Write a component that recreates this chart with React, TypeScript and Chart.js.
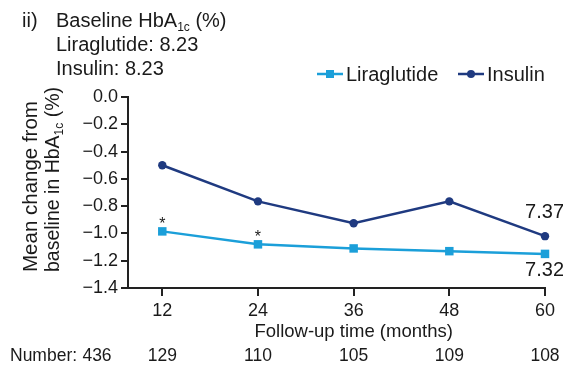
import React, { useEffect, useRef } from "react";
import { Chart, registerables } from "chart.js";

Chart.register(...registerables);

const months = [12, 24, 36, 48, 60];
const liraglutide = [-0.985, -1.08, -1.11, -1.13, -1.15];
const insulin = [-0.5, -0.765, -0.925, -0.765, -1.02];
const yTicks = [0, -0.2, -0.4, -0.6, -0.8, -1.0, -1.2, -1.4];
const numberLabels = ["436", "129", "110", "105", "109", "108"];
const significant = [true, true, false, false, false];
const liraEndLabel = "7.32";
const insulinEndLabel = "7.37";
const baselineLira = "8.23";
const baselineInsulin = "8.23";

const LIRA = "#1b9fd9";
const INS = "#1f3a80";
const TXT = "#1a1a1a";
const FAM = '"Liberation Sans", Arial, sans-serif';
const FS = 18;
const FH = 20;

type Seg = { t: string; size?: number; dy?: number };

function drawRich(ctx: CanvasRenderingContext2D, x: number, y: number, segs: Seg[], base: number) {
  let cx = x;
  for (const s of segs) {
    ctx.font = `${s.size || base}px ${FAM}`;
    ctx.fillText(s.t, cx, y + (s.dy || 0));
    cx += ctx.measureText(s.t).width;
  }
}

const overlay = {
  id: "overlay",
  afterDraw(chart: any) {
    const ctx: CanvasRenderingContext2D = chart.ctx;
    const xs = chart.scales.x;
    const ys = chart.scales.y;
    ctx.save();
    ctx.fillStyle = TXT;
    ctx.textAlign = "left";
    ctx.textBaseline = "alphabetic";

    // header
    ctx.font = `${FH}px ${FAM}`;
    ctx.fillText("ii)", 22, 27);
    drawRich(ctx, 56, 27, [
      { t: "Baseline HbA" },
      { t: "1c", size: 12, dy: 4 },
      { t: " (%)" },
    ], FH);
    ctx.font = `${FH}px ${FAM}`;
    ctx.fillText("Liraglutide: " + baselineLira, 56, 51);
    ctx.fillText("Insulin: " + baselineInsulin, 56, 75);

    // legend
    const legend = [
      { label: "Liraglutide", color: LIRA, style: "rect", x: 317 },
      { label: "Insulin", color: INS, style: "circle", x: 458 },
    ];
    for (const l of legend) {
      const ly = 74;
      ctx.strokeStyle = l.color;
      ctx.lineWidth = 2.5;
      ctx.beginPath();
      ctx.moveTo(l.x, ly);
      ctx.lineTo(l.x + 26, ly);
      ctx.stroke();
      ctx.fillStyle = l.color;
      if (l.style === "rect") {
        ctx.fillRect(l.x + 13 - 4, ly - 4, 8, 8);
      } else {
        ctx.beginPath();
        ctx.arc(l.x + 13, ly, 4, 0, Math.PI * 2);
        ctx.fill();
      }
      ctx.fillStyle = TXT;
      ctx.font = `${FH}px ${FAM}`;
      ctx.textBaseline = "middle";
      ctx.fillText(l.label, l.x + 29, ly + 1);
      ctx.textBaseline = "alphabetic";
    }

    // y title
    ctx.fillStyle = TXT;
    ctx.save();
    ctx.translate(37, 272);
    ctx.rotate(-Math.PI / 2);
    drawRich(ctx, 0, 0, [{ t: "Mean change from" }], 20.5);
    ctx.restore();
    ctx.save();
    ctx.translate(59, 272);
    ctx.rotate(-Math.PI / 2);
    drawRich(ctx, 0, 0, [
      { t: "baseline in HbA" },
      { t: "1c", size: 12, dy: 4 },
      { t: " (%)" },
    ], 19.5);
    ctx.restore();

    // x title
    ctx.font = `18.5px ${FAM}`;
    ctx.textAlign = "center";
    ctx.textBaseline = "middle";
    ctx.fillStyle = TXT;
    ctx.fillText("Follow-up time (months)", xs.getPixelForValue(36), 332);

    // number row
    ctx.font = `17.5px ${FAM}`;
    ctx.textAlign = "left";
    ctx.fillText("Number:", 10, 356);
    ctx.textAlign = "center";
    ctx.fillText(numberLabels[0], 97, 356);
    months.forEach((m, i) => {
      ctx.fillText(numberLabels[i + 1], xs.getPixelForValue(m), 356);
    });

    // asterisks
    ctx.textBaseline = "alphabetic";
    ctx.font = `16px ${FAM}`;
    months.forEach((m, i) => {
      if (!significant[i]) return;
      const px = xs.getPixelForValue(m);
      const py = ys.getPixelForValue(liraglutide[i]);
      ctx.fillText("*", px, py - 2);
    });

    // end labels
    const last = months.length - 1;
    ctx.font = `${FH}px ${FAM}`;
    ctx.textAlign = "right";
    ctx.textBaseline = "middle";
    ctx.fillText(insulinEndLabel, 564, ys.getPixelForValue(insulin[last]) - 24);
    ctx.fillText(liraEndLabel, 564, ys.getPixelForValue(liraglutide[last]) + 17);

    ctx.restore();
  },
};

export default function App() {
  const ref = useRef<HTMLCanvasElement | null>(null);

  useEffect(() => {
    document.body.style.margin = "0";
    const canvas = ref.current!;
    const fmt = (v: number) => {
      if (Math.abs(v) < 1e-9) return "0.0";
      return (v < 0 ? "\u2212" : "") + Math.abs(v).toFixed(1);
    };
    const chart = new Chart(canvas, {
      type: "line",
      data: {
        datasets: [
          {
            label: "Liraglutide",
            data: months.map((m, i) => ({ x: m, y: liraglutide[i] })),
            borderColor: LIRA,
            backgroundColor: LIRA,
            borderWidth: 2.5,
            pointStyle: "rect",
            pointRadius: 6,
            pointBorderWidth: 0,
            clip: false as any,
          },
          {
            label: "Insulin",
            data: months.map((m, i) => ({ x: m, y: insulin[i] })),
            borderColor: INS,
            backgroundColor: INS,
            borderWidth: 2.5,
            pointStyle: "circle",
            pointRadius: 4.2,
            pointBorderWidth: 0,
            clip: false as any,
          },
        ],
      },
      options: {
        animation: false,
        responsive: false,
        layout: { padding: { left: 0, top: 97, right: 18, bottom: 0 } },
        plugins: { legend: { display: false }, tooltip: { enabled: false } },
        scales: {
          x: {
            type: "linear",
            min: 7.7,
            max: 60,
            afterBuildTicks: (s: any) => {
              s.ticks = months.map((v) => ({ value: v }));
            },
            afterFit: (s: any) => {
              s.height = 88;
            },
            grid: {
              drawOnChartArea: false,
              drawTicks: true,
              tickLength: 8,
              color: "#222",
              lineWidth: 2,
            },
            border: { display: true, color: "#222", width: 2 },
            ticks: {
              color: TXT,
              font: { family: FAM, size: FS },
              padding: 4,
              maxRotation: 0,
              autoSkip: false,
              callback: (v: any) => String(v),
            },
          },
          y: {
            type: "linear",
            min: -1.4,
            max: 0,
            afterBuildTicks: (s: any) => {
              s.ticks = yTicks.map((v) => ({ value: v }));
            },
            afterFit: (s: any) => {
              s.width = 128;
            },
            grid: {
              drawOnChartArea: false,
              drawTicks: true,
              tickLength: 7,
              color: "#222",
              lineWidth: 2,
            },
            border: { display: true, color: "#222", width: 2 },
            ticks: {
              color: TXT,
              font: { family: FAM, size: FS },
              padding: 3,
              autoSkip: false,
              callback: (v: any) => fmt(Number(v)),
            },
          },
        },
      },
      plugins: [overlay],
    });
    return () => chart.destroy();
  }, []);

  return <canvas ref={ref} width={563} height={376} style={{ display: "block" }} />;
}
